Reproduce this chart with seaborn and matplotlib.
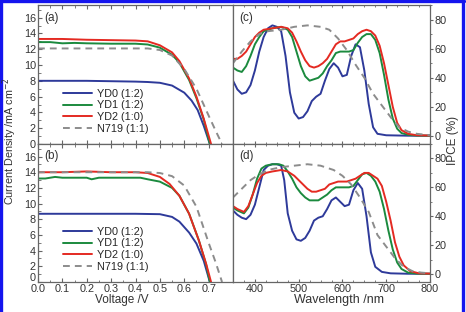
import pandas as pd
import matplotlib
matplotlib.use('Agg')
import matplotlib.pyplot as plt
import matplotlib.transforms as mtransforms
import seaborn as sns
from matplotlib.lines import Line2D
from matplotlib.ticker import MultipleLocator

# ── J-V data (a) ────────────────────────────────────────────────────
v_yd0_a = [0, 0.1, 0.2, 0.3, 0.4, 0.45, 0.5, 0.55, 0.6, 0.63, 0.655, 0.68, 0.705]
j_yd0_a = [8.0, 8.0, 8.0, 7.95, 7.9, 7.85, 7.75, 7.4, 6.5, 5.5, 4.3, 2.3, 0]
v_yd1_a = [0, 0.05, 0.1, 0.15, 0.2, 0.3, 0.4, 0.45, 0.5, 0.55, 0.58, 0.62, 0.65, 0.68, 0.705]
j_yd1_a = [12.9, 12.9, 12.75, 12.8, 12.75, 12.7, 12.7, 12.6, 12.2, 11.3, 10.3, 8.1, 5.8, 3.1, 0]
v_yd2_a = [0, 0.05, 0.1, 0.15, 0.2, 0.3, 0.4, 0.45, 0.5, 0.55, 0.58, 0.62, 0.65, 0.68, 0.71]
j_yd2_a = [13.3, 13.3, 13.3, 13.25, 13.2, 13.15, 13.1, 13.0, 12.5, 11.6, 10.5, 8.3, 6.0, 3.2, 0]
v_n719_a = [0, 0.1, 0.2, 0.3, 0.4, 0.45, 0.5, 0.55, 0.6, 0.65, 0.7, 0.73, 0.755]
j_n719_a = [12.1, 12.1, 12.1, 12.1, 12.1, 12.1, 11.9, 11.2, 9.5, 7.0, 3.6, 1.6, 0]

# ── J-V data (b) ────────────────────────────────────────────────────
v_yd0_b = [0, 0.1, 0.2, 0.3, 0.4, 0.5, 0.55, 0.58, 0.62, 0.65, 0.68, 0.705]
j_yd0_b = [8.7, 8.7, 8.7, 8.7, 8.7, 8.65, 8.3, 7.7, 6.3, 4.9, 2.7, 0]
v_yd1_b = [0, 0.03, 0.07, 0.1, 0.15, 0.2, 0.22, 0.25, 0.3, 0.4, 0.42, 0.45, 0.5, 0.55,
           0.58, 0.62, 0.66, 0.69, 0.705]
j_yd1_b = [13.2, 13.2, 13.4, 13.3, 13.3, 13.3, 13.1, 13.3, 13.3, 13.3, 13.3, 13.1, 12.8, 12.0,
           11.0, 8.7, 5.3, 2.2, 0]
v_yd2_b = [0, 0.1, 0.2, 0.3, 0.4, 0.45, 0.5, 0.54, 0.58, 0.62, 0.66, 0.69, 0.71]
j_yd2_b = [14.0, 14.0, 14.1, 14.0, 14.0, 13.9, 13.4, 12.5, 11.0, 8.7, 5.3, 2.3, 0]
v_n719_b = [0, 0.1, 0.2, 0.3, 0.4, 0.45, 0.5, 0.55, 0.6, 0.65, 0.7, 0.73, 0.755]
j_n719_b = [14.0, 14.0, 14.0, 14.0, 14.0, 14.0, 13.9, 13.5, 12.3, 9.6, 5.0, 2.4, 0]

# ── IPCE data (c) ───────────────────────────────────────────────────
wl_red_c = [350, 360, 370, 380, 390, 400, 410, 420, 440, 460, 475, 485, 495, 505, 515, 525, 535,
            545, 555, 565, 575, 585, 595, 605, 615, 625, 635, 645, 655, 665, 675, 685, 695,
            705, 715, 725, 735, 750, 770, 800]
ipce_red_c = [53, 53, 55, 58, 63, 68, 71, 73, 74, 75, 74, 71, 65, 58, 52, 48, 47,
              48, 50, 53, 58, 63, 65, 65, 66, 67, 70, 72, 73, 72, 69, 62, 50,
              35, 20, 9, 4, 1.5, 0.5, 0.3]
wl_green_c = wl_red_c
ipce_green_c = [47, 45, 44, 48, 55, 63, 68, 72, 74, 75, 73, 68, 58, 48, 41, 38, 39,
                40, 43, 48, 52, 57, 58, 58, 58, 59, 64, 68, 70, 70, 66, 57, 42,
                25, 12, 5, 2, 0.8, 0.3, 0.2]
wl_blue_c = [350, 360, 370, 380, 390, 400, 410, 420, 430, 440, 450, 460, 470, 480, 490, 500, 510,
             520, 530, 540, 550, 560, 570, 580, 590, 600, 610, 620, 630, 640, 650, 660, 670,
             680, 700, 750, 800]
ipce_blue_c = [38, 32, 29, 30, 35, 45, 58, 68, 74, 76, 75, 72, 55, 30, 16, 12, 13,
               17, 24, 27, 29, 38, 46, 50, 47, 41, 42, 55, 63, 61, 45, 22, 6,
               1.5, 0.5, 0.2, 0.2]
wl_n719_c = [350, 370, 390, 410, 430, 460, 490, 520, 550, 570, 590, 610, 630, 650, 670, 690,
             700, 715, 730, 750, 770, 800]
ipce_n719_c = [50, 58, 65, 70, 72, 73, 75, 76, 75, 73, 67, 59, 49, 40, 29, 21,
               17, 11, 6, 3, 1.5, 0.5]

# ── IPCE data (d) ───────────────────────────────────────────────────
wl_red_d = [350, 360, 375, 385, 395, 405, 415, 425, 440, 460, 475, 490, 500, 510, 520, 530, 540,
            550, 560, 570, 580, 590, 600, 610, 620, 630, 640, 650, 660, 670, 680, 690, 700,
            710, 720, 730, 740, 755, 775, 800]
ipce_red_d = [47, 45, 43, 47, 55, 63, 68, 70, 71, 72, 71, 68, 65, 62, 59, 57, 57,
              58, 59, 62, 63, 64, 64, 64, 65, 66, 68, 70, 70, 68, 66, 61, 50,
              37, 22, 12, 6, 2, 0.5, 0.3]
wl_green_d = [350, 360, 375, 385, 395, 405, 415, 425, 440, 455, 465, 475, 485, 495, 505, 515, 525,
              535, 545, 555, 565, 575, 585, 595, 605, 615, 625, 635, 645, 655, 665, 675, 685,
              695, 705, 715, 725, 735, 750, 770, 800]
ipce_green_d = [46, 44, 42, 46, 55, 66, 73, 75, 76, 76, 75, 71, 66, 60, 56, 53, 51,
                51, 51, 53, 55, 58, 60, 60, 60, 60, 61, 65, 69, 70, 68, 64, 57,
                45, 30, 17, 8, 3.5, 1, 0.3, 0.2]
wl_blue_d = [350, 360, 370, 380, 390, 400, 410, 420, 430, 440, 450, 460, 467, 475, 485, 495, 505,
             515, 525, 535, 545, 555, 565, 575, 585, 595, 605, 615, 625, 635, 645, 655, 665,
             675, 690, 710, 750, 800]
ipce_blue_d = [44, 41, 39, 38, 41, 48, 60, 72, 75, 76, 76, 75, 65, 42, 30, 24, 23,
               25, 30, 37, 39, 40, 45, 51, 53, 50, 47, 48, 58, 63, 59, 40, 15,
               5, 1.5, 0.5, 0.2, 0.2]
wl_n719_d = [350, 370, 390, 410, 430, 460, 490, 520, 550, 580, 600, 620, 640, 660, 680, 700,
             720, 740, 760, 780, 800]
ipce_n719_d = [53, 59, 65, 69, 72, 74, 75, 76, 75, 72, 68, 62, 53, 43, 27, 19,
               11, 5, 2, 1, 0.5]

labels = ['YD0 (1:2)', 'YD1 (1:2)', 'YD2 (1:0)', 'N719 (1:1)']
colors = ['#2e3a9a', '#1b8a3e', '#e42a22', '#8c8c8c']
styles = ['-', '-', '-', (0, (3.5, 2.6))]

sns.set_theme(style='ticks')
plt.rcParams['font.family'] = ['Liberation Sans', 'DejaVu Sans']
plt.rcParams['axes.edgecolor'] = '#666666'
plt.rcParams['xtick.color'] = '#666666'
plt.rcParams['ytick.color'] = '#666666'
plt.rcParams['xtick.labelcolor'] = '#333333'
plt.rcParams['ytick.labelcolor'] = '#333333'

fig = plt.figure(figsize=(4.66, 3.12), dpi=100)
W, H = 466, 312


def box(x0, y0, x1, y1):
    return [x0 / W, 1 - y1 / H, (x1 - x0) / W, (y1 - y0) / H]


ax_a = fig.add_axes(box(38, 5, 233, 144))
ax_b = fig.add_axes(box(38, 144, 233, 282))
ax_c = fig.add_axes(box(233, 5, 430, 144))
ax_d = fig.add_axes(box(233, 144, 430, 282))

iv_sets = {
    ax_a: [(v_yd0_a, j_yd0_a), (v_yd1_a, j_yd1_a), (v_yd2_a, j_yd2_a), (v_n719_a, j_n719_a)],
    ax_b: [(v_yd0_b, j_yd0_b), (v_yd1_b, j_yd1_b), (v_yd2_b, j_yd2_b), (v_n719_b, j_n719_b)],
}
ipce_sets = {
    ax_c: [(wl_blue_c, ipce_blue_c), (wl_green_c, ipce_green_c), (wl_red_c, ipce_red_c),
           (wl_n719_c, ipce_n719_c)],
    ax_d: [(wl_blue_d, ipce_blue_d), (wl_green_d, ipce_green_d), (wl_red_d, ipce_red_d),
           (wl_n719_d, ipce_n719_d)],
}

for ax, sets in {**iv_sets, **ipce_sets}.items():
    for (x, y), lab, col, ls in zip(sets, labels, colors, styles):
        df = pd.DataFrame({'x': x, 'y': y})
        sns.lineplot(data=df, x='x', y='y', ax=ax, color=col, linestyle=ls,
                     linewidth=1.4, sort=False, label=lab)
    ax.set_xlabel('')
    ax.set_ylabel('')
    ax.get_legend().remove()

# J-V axes styling
for ax in (ax_a, ax_b):
    ax.set_xlim(0, 0.8)
    ax.set_ylim(0, 17.6)
    ax.xaxis.set_minor_locator(MultipleLocator(0.05))
    ax.yaxis.set_minor_locator(MultipleLocator(1))
    ax.set_xticks([0, 0.1, 0.2, 0.3, 0.4, 0.5, 0.6, 0.7])
    ax.set_yticks(range(0, 17, 2))
    ax.tick_params(which='both', direction='in', top=True, right=False, labelsize=7.8, pad=1.5)
    ax.tick_params(which='major', length=3, width=0.8)
    ax.tick_params(which='minor', length=1.8, width=0.6)
    ax.legend(loc='lower left', bbox_to_anchor=(0.09, 0.02), frameon=False, fontsize=7.8,
              handlelength=2.7, labelspacing=0.15, handletextpad=0.4, borderpad=0.2)
ax_a.set_xticklabels([])
ax_b.set_xticklabels(['0.0', '0.1', '0.2', '0.3', '0.4', '0.5', '0.6', '0.7'])

# nudge the lowest "0" of (b) up so it sits just above "0.0" as in the original
fig.canvas.draw()
zero_lab = ax_b.get_yticklabels()[0]
zero_lab.set_transform(zero_lab.get_transform() +
                       mtransforms.ScaledTranslation(0, 3.5 / 72, fig.dpi_scale_trans))

# IPCE axes styling
for ax in (ax_c, ax_d):
    ax.set_xlim(350, 800)
    ax.set_ylim(-5.5, 90)
    ax.set_xticks([400, 500, 600, 700, 800])
    ax.xaxis.set_minor_locator(MultipleLocator(25))
    ax.set_yticks([0, 20, 40, 60, 80])
    ax.yaxis.set_minor_locator(MultipleLocator(10))
    ax.yaxis.tick_right()
    ax.tick_params(axis='x', which='both', direction='in', top=True, labelsize=7.8, pad=1.5)
    ax.tick_params(axis='y', which='both', direction='out', left=False, right=True,
                   labelleft=False, labelright=True, labelsize=7.8, pad=1)
    ax.tick_params(which='major', length=2.5, width=0.8)
    ax.tick_params(which='minor', length=1.6, width=0.6)
ax_c.set_xticklabels([])

for ax in (ax_a, ax_b, ax_c, ax_d):
    for s in ax.spines.values():
        s.set_linewidth(0.9)

# panel tags
for ax, tag in ((ax_a, '(a)'), (ax_b, '(b)'), (ax_c, '(c)'), (ax_d, '(d)')):
    ax.text(0.03, 0.91, tag, transform=ax.transAxes, fontsize=8.5, color='#333333',
            va='center', ha='left')

fig.text(10 / W, 1 - 141 / H, 'Current Density /mA cm$^{-2}$', rotation=90,
         ha='center', va='center', fontsize=7.8, color='#333333')
fig.text(122 / W, 1 - 300 / H, 'Voltage /V', ha='center', va='center', fontsize=8.5,
         color='#333333')
fig.text(339 / W, 1 - 300 / H, 'Wavelength /nm', ha='center', va='center', fontsize=9,
         color='#333333')
fig.text(453 / W, 1 - 140 / H, 'IPCE (%)', rotation=90, ha='center', va='center',
         fontsize=8.5, color='#333333')

# blue frame on top, left and right
frame = dict(color='#1515ee', linewidth=2.4, transform=fig.transFigure)
fig.add_artist(Line2D([1.2 / W, 1.2 / W], [0, 1], **frame))
fig.add_artist(Line2D([0, 463.5 / W], [1 - 1.2 / H, 1 - 1.2 / H], **frame))
fig.add_artist(Line2D([462.5 / W, 462.5 / W], [0, 1], **frame))

fig.savefig('out.png', dpi=100)
